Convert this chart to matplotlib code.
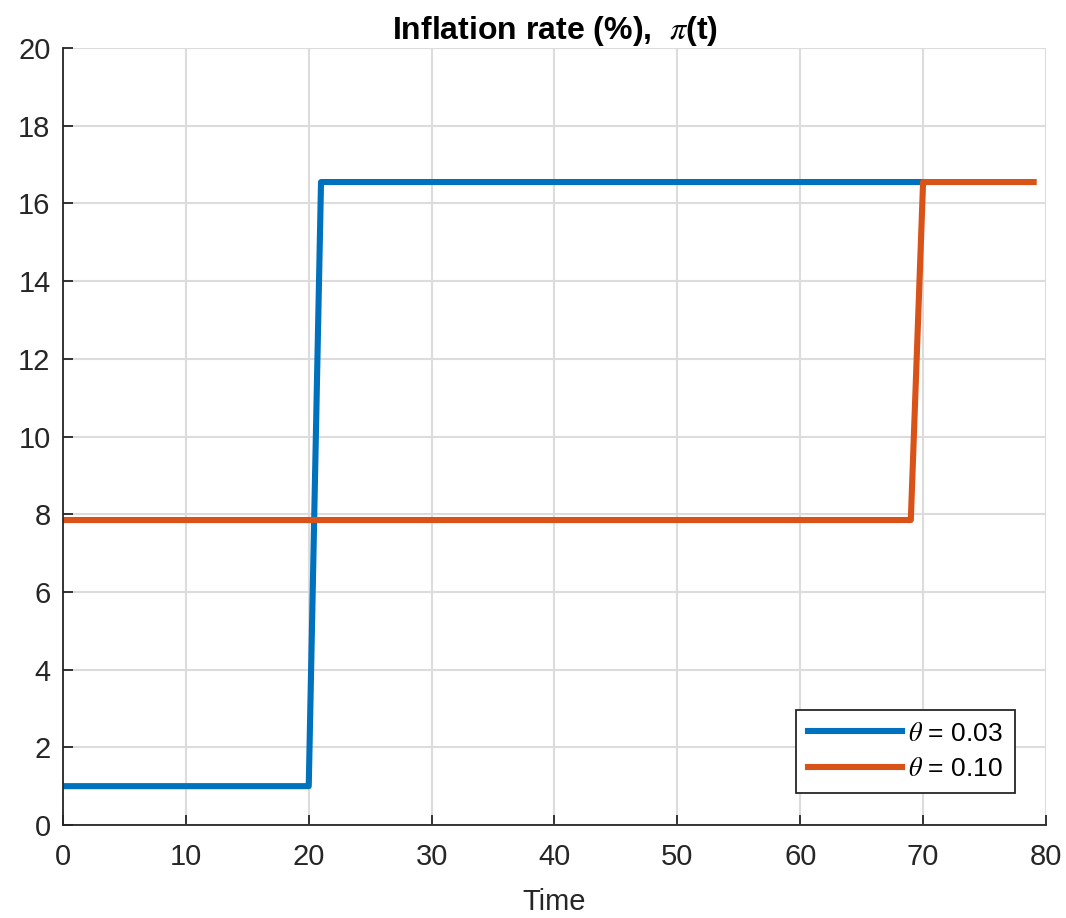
import matplotlib
matplotlib.use('Agg')
import matplotlib.pyplot as plt
import numpy as np

plt.rcParams['font.family'] = ['Liberation Sans', 'DejaVu Sans']
plt.rcParams['mathtext.fontset'] = 'stix'

# data
t_low = np.arange(0, 71)
pi_low = np.where(t_low <= 20, 1.0, 16.55)
t_high = np.arange(0, 80)
pi_high = np.where(t_high <= 69, 7.85, 16.55)
labels = [r'$\theta$ = 0.03', r'$\theta$ = 0.10']

fig = plt.figure(figsize=(10.66, 9.18), dpi=100)
ax = fig.add_axes([0.0591, 0.1013, 0.9221, 0.8464])

ax.plot(t_low, pi_low, color='#0072BD', linewidth=4.4, label=labels[0])
ax.plot(t_high, pi_high, color='#D95319', linewidth=4.4, label=labels[1])

ax.set_xlim(0, 80)
ax.set_ylim(0, 20)
ax.set_xticks(np.arange(0, 81, 10))
ax.set_yticks(np.arange(0, 21, 2))
ax.grid(True, color='#dcdcdc', linewidth=1.5)
ax.set_axisbelow(True)
for s in ['top', 'right']:
    ax.spines[s].set_visible(False)
for s in ['left', 'bottom']:
    ax.spines[s].set_color('#262626')
    ax.spines[s].set_linewidth(1.3)
ax.tick_params(direction='in', length=7, width=1.3, labelsize=21, colors='#262626')
ax.tick_params(axis='y', pad=9)
ax.tick_params(axis='x', pad=13)

ax.set_xlabel('Time', fontsize=21, color='#262626', labelpad=12)
ax.set_title(r'Inflation rate (%),  $\pi$(t)', fontsize=23, fontweight='bold', pad=5)

leg = ax.legend(loc='lower right', bbox_to_anchor=(0.9685, 0.041), borderaxespad=0,
                fontsize=19, fancybox=False, edgecolor='#262626', handlelength=3.55,
                framealpha=1, borderpad=0.45, labelspacing=0.44, handletextpad=0.25)
leg.get_frame().set_linewidth(1.3)

fig.savefig('out.png', dpi=100)
